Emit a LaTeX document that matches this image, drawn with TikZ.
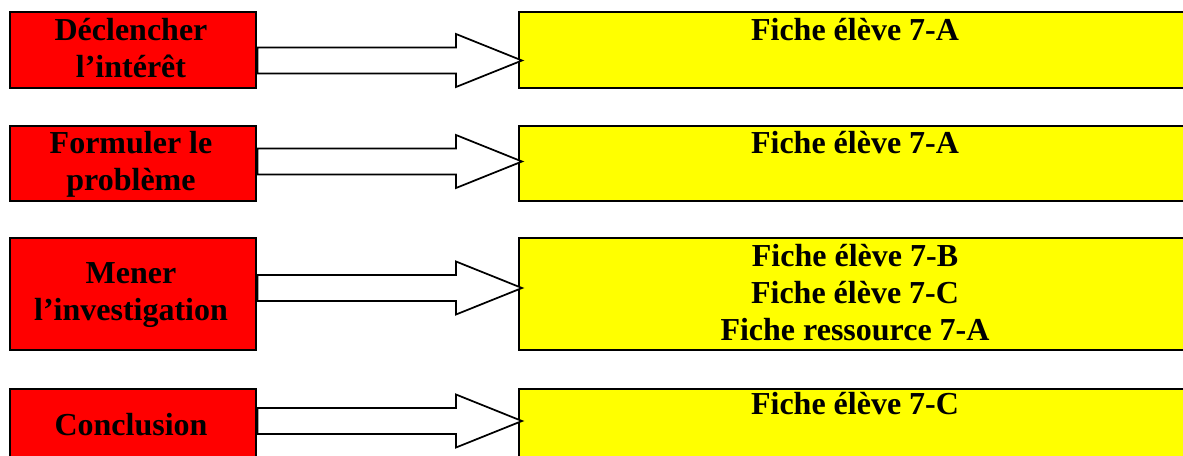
\documentclass[tikz,border=0pt]{standalone}
\usepackage{fontspec}
\setmainfont{Liberation Serif}
\definecolor{boxred}{RGB}{255,0,0}
\definecolor{boxyellow}{RGB}{255,255,0}
\begin{document}
\begin{tikzpicture}[x=0.75pt,y=-0.75pt,
  redbox/.style={draw=black,line width=1.7pt,fill=boxred,inner sep=0pt,anchor=north west,minimum width=184.5pt},
  yelbox/.style={draw=black,line width=1.7pt,fill=boxyellow,inner sep=0pt,anchor=north west,minimum width=507pt},
  lbl/.style={anchor=base,inner sep=0pt,font=\fontsize{24}{27.75}\selectfont\bfseries},
  blockarrow/.style={draw=black,line width=1.3pt,fill=white,line join=miter}]
\clip (0,0) rectangle (1183,455);
\fill[white] (0,0) rectangle (1183,455);
% red boxes
\node[redbox,minimum height=57pt] (r1) at (9,11) {};
\node[redbox,minimum height=56.25pt] (r2) at (9,124.5) {};
\node[redbox,minimum height=84pt] (r3) at (9,237) {};
\node[redbox,minimum height=57pt] (r4) at (9,388) {};
% yellow boxes
\node[yelbox,minimum height=57pt] (y1) at (517.5,11) {};
\node[yelbox,minimum height=56.25pt] (y2) at (517.5,124.5) {};
\node[yelbox,minimum height=84pt] (y3) at (517.5,237) {};
\node[yelbox,minimum height=57pt] (y4) at (517.5,388) {};
% red labels
\node[lbl] (r1a) at (131,40) {Déclencher};
\node[lbl] (r1b) at (131,77) {l’intérêt};
\node[lbl] (r2a) at (131,153) {Formuler le};
\node[lbl] (r2b) at (131,190) {problème};
\node[lbl] (r3a) at (131,283) {Mener};
\node[lbl] (r3b) at (131,320) {l’investigation};
\node[lbl] (r4a) at (131,435) {Conclusion};
% yellow labels
\node[lbl] (y1a) at (855,40) {Fiche élève 7-A};
\node[lbl] (y2a) at (855,153) {Fiche élève 7-A};
\node[lbl] (y3a) at (855,266) {Fiche élève 7-B};
\node[lbl] (y3b) at (855,303) {Fiche élève 7-C};
\node[lbl] (y3c) at (855,340) {Fiche ressource 7-A};
\node[lbl] (y4a) at (855,414) {Fiche élève 7-C};
% block arrows
\foreach \yy in {60.5,161.5,288,421}{
  \draw[blockarrow] (257.5,\yy-13) -- (456,\yy-13) -- (456,\yy-26.5) -- (522,\yy)
    -- (456,\yy+26.5) -- (456,\yy+13) -- (257.5,\yy+13) -- cycle;
}
\end{tikzpicture}
\end{document}
